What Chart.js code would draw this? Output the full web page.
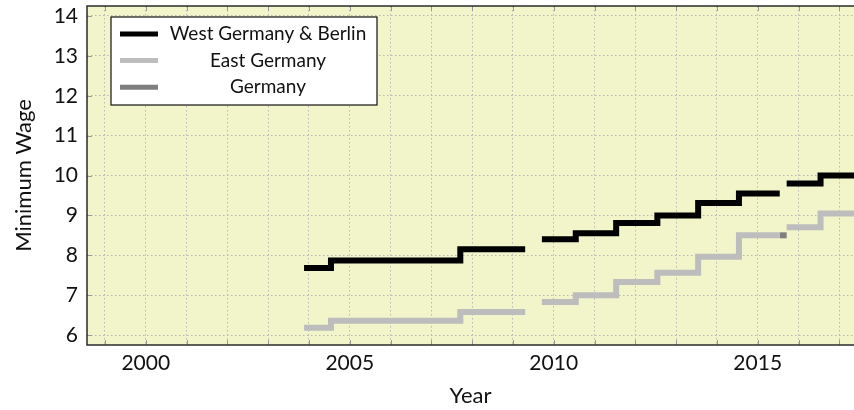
<!DOCTYPE html>
<html>
<head>
<meta charset="utf-8">
<script src="https://cdn.jsdelivr.net/npm/chart.js@4"></script>
<style>
  html, body { margin: 0; padding: 0; background: #fff; }
  #wrap { width: 854px; height: 410px; }
</style>
</head>
<body>
<div id="wrap"><canvas id="wageChart" width="854" height="410"></canvas></div>
<script>
// step points: each value holds from its year until the next point, null = gap
const westYears = [2003.88, 2004.54, 2007.71, 2009.30, 2009.5, 2009.71, 2010.54, 2011.53, 2012.54, 2013.54, 2014.54, 2015.54, 2015.62, 2015.71, 2016.54, 2017.6];
const westWage  = [7.68, 7.87, 8.15, 8.15, null, 8.40, 8.55, 8.81, 9.00, 9.31, 9.55, 9.55, null, 9.80, 10.00, 10.00];

const eastYears = [2003.88, 2004.54, 2007.71, 2009.30, 2009.5, 2009.71, 2010.54, 2011.53, 2012.54, 2013.54, 2014.54, 2015.54, 2015.62, 2015.71, 2016.54, 2017.6];
const eastWage  = [6.18, 6.36, 6.58, 6.58, null, 6.83, 7.00, 7.33, 7.56, 7.96, 8.50, 8.50, null, 8.70, 9.05, 9.05];

const germanyYears = [2015.54, 2015.71];
const germanyWage  = [8.50, 8.50];

const seriesNames = ["West Germany & Berlin", "East Germany", "Germany"];
const labeledYears = [2000, 2005, 2010, 2015];

function toPoints(xs, ys) {
  return xs.map((x, i) => ({ x: x, y: ys[i] }));
}

Chart.defaults.font.family = "Lato";
Chart.defaults.font.size = 21;
Chart.defaults.color = "#111";

const panelPlugin = {
  id: "panel",
  beforeDraw(chart) {
    const { ctx, chartArea: a } = chart;
    ctx.save();
    ctx.fillStyle = "#f2f4c9";
    ctx.fillRect(a.left, a.top, a.right - a.left, a.bottom - a.top);
    ctx.restore();
  },
  afterDraw(chart) {
    const { ctx, chartArea: a } = chart;
    const xs = chart.scales.x, ys = chart.scales.y;
    ctx.save();
    // small inward tick marks
    ctx.strokeStyle = "#999";
    ctx.lineWidth = 1;
    ctx.beginPath();
    xs.ticks.forEach(t => {
      const px = Math.round(xs.getPixelForValue(t.value)) + 0.5;
      ctx.moveTo(px, a.bottom); ctx.lineTo(px, a.bottom - 5);
      ctx.moveTo(px, a.top); ctx.lineTo(px, a.top + 5);
    });
    ys.ticks.forEach(t => {
      const py = Math.round(ys.getPixelForValue(t.value)) + 0.5;
      ctx.moveTo(a.left, py); ctx.lineTo(a.left + 5, py);
    });
    ctx.stroke();
    // frame
    ctx.strokeStyle = "#2b2b2b";
    ctx.lineWidth = 1.5;
    ctx.strokeRect(a.left, a.top, a.right - a.left + 2, a.bottom - a.top);

    // legend box
    const bx = 111, by = 17, bw = 266, bh = 88;
    ctx.fillStyle = "#ffffff";
    ctx.fillRect(bx, by, bw, bh);
    ctx.strokeStyle = "#111";
    ctx.lineWidth = 1.2;
    ctx.strokeRect(bx, by, bw, bh);
    ctx.font = "19px Lato";
    ctx.textAlign = "center";
    ctx.textBaseline = "middle";
    chart.data.datasets.forEach((ds, i) => {
      const ry = 34 + i * 26.6;
      ctx.strokeStyle = ds.borderColor;
      ctx.lineWidth = 5;
      ctx.beginPath();
      ctx.moveTo(120, ry); ctx.lineTo(158, ry);
      ctx.stroke();
      ctx.fillStyle = "#111";
      ctx.fillText(ds.label, 268, ry);
    });
    ctx.restore();
  }
};

new Chart(document.getElementById("wageChart").getContext("2d"), {
  type: "line",
  data: {
    datasets: [
      {
        label: seriesNames[0],
        data: toPoints(westYears, westWage),
        borderColor: "#000000",
        borderWidth: 6,
        stepped: "before",
        pointRadius: 0,
        spanGaps: false
      },
      {
        label: seriesNames[1],
        data: toPoints(eastYears, eastWage),
        borderColor: "#bdbdbd",
        borderWidth: 6,
        stepped: "before",
        pointRadius: 0,
        spanGaps: false
      },
      {
        label: seriesNames[2],
        data: toPoints(germanyYears, germanyWage),
        borderColor: "#7f7f7f",
        borderWidth: 6,
        stepped: "before",
        pointRadius: 0
      }
    ]
  },
  options: {
    responsive: false,
    animation: false,
    layout: { padding: { top: 6, left: 0, right: 0, bottom: 0 } },
    plugins: {
      legend: { display: false },
      tooltip: { enabled: false }
    },
    scales: {
      x: {
        type: "linear",
        min: 1998.56,
        max: 2017.36,
        grid: { color: "#b8b8b8", lineWidth: 1, drawTicks: false },
        border: { display: false, dash: [1.5, 2.5] },
        ticks: {
          stepSize: 1,
          autoSkip: false,
          maxRotation: 0,
          includeBounds: false,
          padding: 6,
          callback: v => labeledYears.includes(Math.round(v)) ? String(Math.round(v)) : ""
        },
        title: { display: true, text: "Year", font: { size: 22 }, padding: { top: 0, bottom: 1 } },
        afterFit(scale) {
          scale.height = 65;
          scale.paddingLeft = 0;
          scale.paddingRight = 0;
        }
      },
      y: {
        min: 5.75,
        max: 14.25,
        grid: { color: "#b8b8b8", lineWidth: 1, drawTicks: false },
        border: { display: false, dash: [1.5, 2.5] },
        ticks: {
          stepSize: 1,
          includeBounds: false,
          padding: 9,
          callback: v => String(v)
        },
        title: { display: true, text: "Minimum Wage", font: { size: 22 }, padding: { top: 11, bottom: 0 } },
        afterFit(scale) {
          scale.width = 87;
          scale.paddingTop = 0;
          scale.paddingBottom = 0;
        }
      }
    }
  },
  plugins: [panelPlugin]
});
</script>
</body>
</html>
